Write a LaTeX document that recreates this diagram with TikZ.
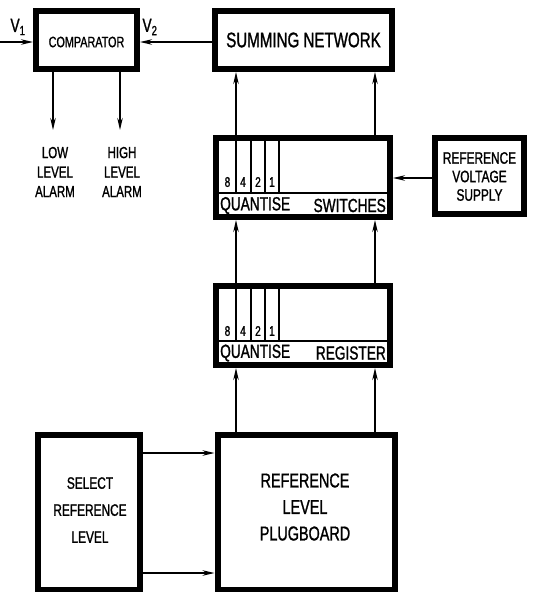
\documentclass[tikz,border=0pt]{standalone}
\usepackage{fontspec}
\setmainfont[FakeStretch=0.72,FakeBold=1.2]{Liberation Sans}
\usetikzlibrary{arrows.meta}
\begin{document}
\begin{tikzpicture}[x=1pt,y=-1pt,
  blk/.style={draw, line width=6pt, inner sep=0pt},
  conn/.style={line width=1.3pt, -{Stealth[length=12pt,width=5.5pt]}},
  thin/.style={line width=1.1pt},
  txt/.style={inner sep=0pt, align=center}]
\useasboundingbox (0,0) rectangle (534,592);
\clip (0,0) rectangle (534,592);
% boxes (outer edges measured; minimum size = outer - line width)
\node[blk, minimum width=101pt, minimum height=58pt] (comp) at (86.5,40) {};
\node[blk, minimum width=177pt, minimum height=58pt] (sum) at (303.5,40) {};
\node[blk, minimum width=174pt, minimum height=79pt] (sw) at (303,177.5) {};
\node[blk, minimum width=89pt, minimum height=76pt] (rvs) at (479.5,176) {};
\node[blk, minimum width=174pt, minimum height=79pt] (reg) at (303,325.5) {};
\node[blk, minimum width=102pt, minimum height=155pt] (sel) at (89,512.5) {};
\node[blk, minimum width=177pt, minimum height=155pt] (plug) at (306,512.5) {};
% texts
\node[txt, font=\fontsize{15}{16}\selectfont] (tcomp) at (86.5,42) {COMPARATOR};
\node[txt, font=\fontsize{21}{22}\selectfont] (tsum) at (303.5,40) {SUMMING NETWORK};
\node[txt, font=\fontsize{16.5}{18.5}\selectfont] (trvs) at (479.5,176.5) {REFERENCE\\VOLTAGE\\SUPPLY};
\node[txt, font=\fontsize{16.5}{27}\selectfont] (tsel) at (90,510) {SELECT\\REFERENCE\\LEVEL};
\node[txt, font=\fontsize{20}{26.5}\selectfont] (tplug) at (305,507) {REFERENCE\\LEVEL\\PLUGBOARD};
\node[txt, font=\fontsize{16}{19.5}\selectfont] (tlow) at (55,172) {LOW\\LEVEL\\ALARM};
\node[txt, font=\fontsize{16}{19.5}\selectfont] (thigh) at (122,172) {HIGH\\LEVEL\\ALARM};
\node[txt, font=\fontsize{19}{20}\selectfont, anchor=west] (tq1) at (220,205.5) {QUANTISE};
\node[txt, font=\fontsize{19}{20}\selectfont, anchor=east] (tsw) at (386,205.5) {SWITCHES};
\node[txt, font=\fontsize{19}{20}\selectfont, anchor=west] (tq2) at (220,353) {QUANTISE};
\node[txt, font=\fontsize{19}{20}\selectfont, anchor=east] (treg) at (386,353) {REGISTER};
\node[txt, font=\fontsize{19}{20}\selectfont] (v1) at (18,27) {V\textsubscript{1}};
\node[txt, font=\fontsize{19}{20}\selectfont] (v2) at (150,27) {V\textsubscript{2}};
% inner detail of switches and register
\foreach \b/\yl/\yd in {sw/193/182, reg/341/331}{
  \draw[thin] ([xshift=6pt]\b.west |- 0,\yl) -- ([xshift=-6pt]\b.east |- 0,\yl);
  \foreach \x in {236,251,265,279}
    \draw[thin] (\x,\yl) -- (\x,0 |- \b.north);
  \foreach \x/\d in {227.5/8,243/4,258/2,272/1}
    \node[txt, font=\fontsize{14}{14}\selectfont] at (\x,\yd) {\d};
}
% connectors
\coordinate (in1) at (0,42);
\coordinate (lowend) at (53,130);
\coordinate (highend) at (120,130);
\draw[conn] (in1) -- (comp.west |- in1);
\draw[conn] (sum.west |- 0,42) -- (comp.east |- 0,42);
\draw[conn] (comp.south -| lowend) -- (lowend);
\draw[conn] (comp.south -| highend) -- (highend);
\draw[conn] (sw.north -| 236,0) -- (sum.south -| 236,0);
\draw[conn] (sw.north -| 375,0) -- (sum.south -| 375,0);
\draw[conn] (rvs.west |- 0,178) -- (sw.east |- 0,178);
\draw[conn] (reg.north -| 236,0) -- (sw.south -| 236,0);
\draw[conn] (reg.north -| 375,0) -- (sw.south -| 375,0);
\draw[conn] (plug.north -| 236,0) -- (reg.south -| 236,0);
\draw[conn] (plug.north -| 375,0) -- (reg.south -| 375,0);
\draw[conn] (sel.east |- 0,453) -- (plug.west |- 0,453);
\draw[conn] (sel.east |- 0,573) -- (plug.west |- 0,573);
\end{tikzpicture}
\end{document}
